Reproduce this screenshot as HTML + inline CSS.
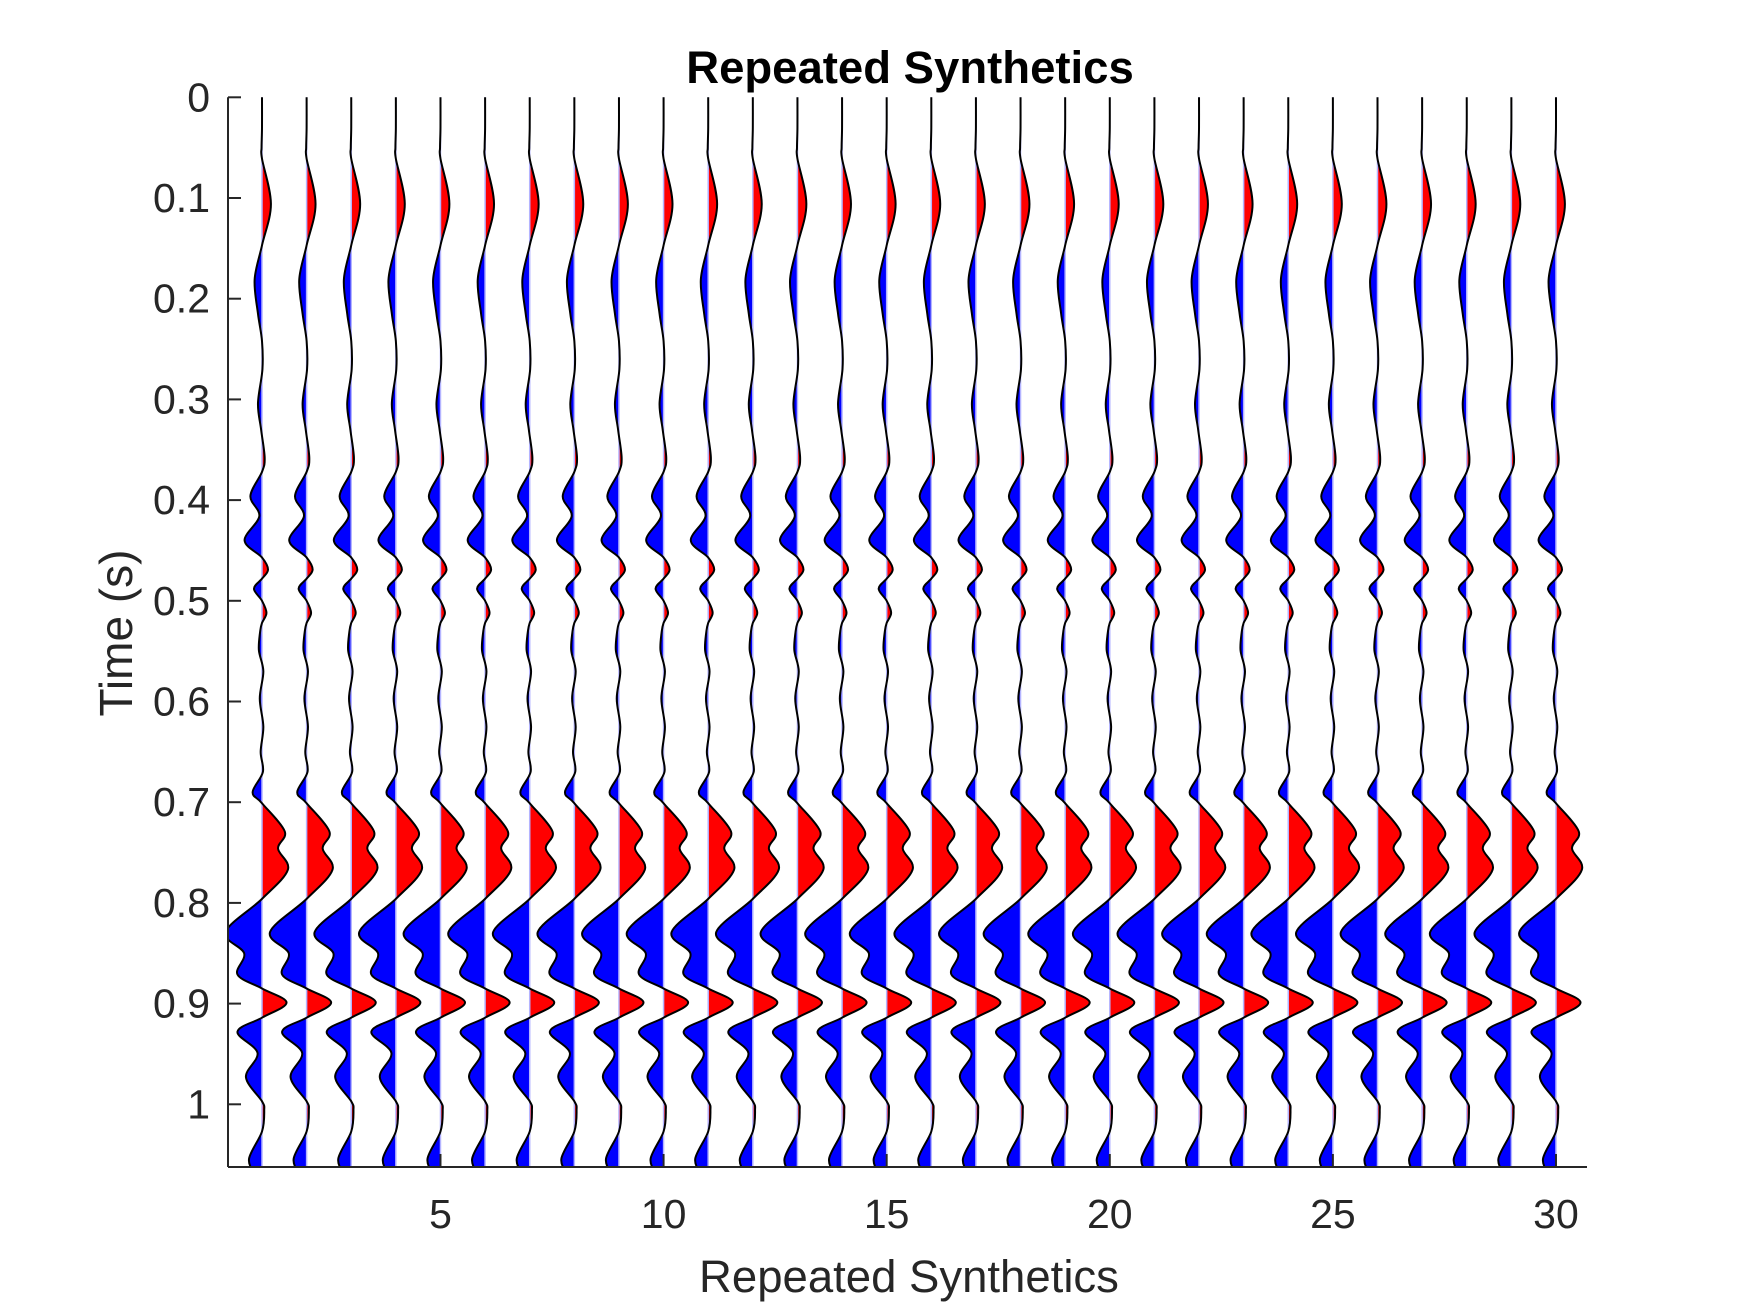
<!DOCTYPE html>
<html><head><meta charset="utf-8"><style>
html,body{margin:0;padding:0;background:#fff;}
svg{display:block;}
text{font-family:"Liberation Sans",Arial,sans-serif;fill:#262626;}
</style></head><body>
<svg id="chart" width="1750" height="1313" viewBox="0 0 1750 1313" xmlns="http://www.w3.org/2000/svg">
<defs>
<clipPath id="axclip"><rect x="228" y="97" width="1359" height="1071"/></clipPath>
<clipPath id="posclip"><rect x="0" y="0" width="200" height="1400"/></clipPath>
<clipPath id="negclip"><rect x="-200" y="0" width="200" height="1400"/></clipPath>
</defs>
<g id="plot" clip-path="url(#axclip)"></g>
<g id="axes"></g>
<text x="910" y="83" text-anchor="middle" font-size="45.5" font-weight="bold" style="fill:#000">Repeated Synthetics</text>
<text x="909" y="1292" text-anchor="middle" font-size="45.5">Repeated Synthetics</text>
<text x="0" y="0" transform="translate(132,633) rotate(-90)" text-anchor="middle" font-size="46">Time (s)</text>
</svg>
<script>
const traces = [1,2,3,4,5,6,7,8,9,10,11,12,13,14,15,16,17,18,19,20,21,22,23,24,25,26,27,28,29,30];
const times = [0,0.03,0.05,0.061,0.106,0.147,0.181,0.215,0.242,0.27,0.304,0.33,0.358,0.372,0.396,0.416,0.44,0.457,0.469,0.478,0.488,0.5,0.512,0.522,0.53,0.549,0.57,0.597,0.625,0.65,0.67,0.69,0.701,0.729,0.746,0.767,0.796,0.829,0.85,0.871,0.885,0.899,0.914,0.928,0.949,0.973,0.997,1.006,1.027,1.054,1.07];
const amps = [0,0,-0.01,0,0.2,0,-0.165,-0.09,0,0.01,-0.09,-0.02,0.06,0,-0.26,-0.06,-0.39,0,0.135,0,-0.18,0,0.1,0,-0.04,-0.07,0.03,-0.05,0.03,-0.03,0.02,-0.21,0,0.51,0.36,0.58,0,-0.82,-0.40,-0.55,0,0.55,0,-0.55,-0.1,-0.36,0,0.05,0,-0.29,-0.15];
const yTicks = [0,0.1,0.2,0.3,0.4,0.5,0.6,0.7,0.8,0.9,1];
const yTickLabels = ['0','0.1','0.2','0.3','0.4','0.5','0.6','0.7','0.8','0.9','1'];
const xTicks = [5,10,15,20,25,30];
const xTickLabels = ['5','10','15','20','25','30'];

const X0=228, X1=1587, Y0=97.3, Y1=1167;
const traceSpacing = 44.62;
function xs(v){return 262 + (v-1)*traceSpacing;}
function ys(t){return 97.3 + t*1007;}
function ampPx(a){return a*traceSpacing;}

const NS='http://www.w3.org/2000/svg';
function mk(tag, attrs, parent){const e=document.createElementNS(NS,tag);for(const k in attrs)e.setAttribute(k,attrs[k]);parent.appendChild(e);return e;}

const pts = times.map((t,i)=>[ampPx(amps[i]), ys(t)]);
let d = 'M'+pts[0][0].toFixed(2)+','+pts[0][1].toFixed(2);
for(let i=0;i<pts.length-1;i++){
  const p0=pts[Math.max(0,i-1)], p1=pts[i], p2=pts[i+1], p3=pts[Math.min(pts.length-1,i+2)];
  const c1=[p1[0]+(p2[0]-p0[0])/6, p1[1]+(p2[1]-p0[1])/6];
  const c2=[p2[0]-(p3[0]-p1[0])/6, p2[1]-(p3[1]-p1[1])/6];
  d+=' C'+c1[0].toFixed(2)+','+c1[1].toFixed(2)+' '+c2[0].toFixed(2)+','+c2[1].toFixed(2)+' '+p2[0].toFixed(2)+','+p2[1].toFixed(2);
}
const last=pts[pts.length-1];
const fillD = d+' L0,'+last[1].toFixed(2)+' L0,'+pts[0][1].toFixed(2)+' Z';

const plot=document.getElementById('plot');
traces.forEach((v)=>{
  const g=mk('g',{transform:'translate('+xs(v).toFixed(2)+',0)'},plot);
  
  
  const pos=mk('path',{d:fillD,fill:'#ff0000','clip-path':'url(#posclip)'},g);
  
  
  const neg=mk('path',{d:fillD,fill:'#0000ff','clip-path':'url(#negclip)'},g);
  
  
  const bl=mk('line',{x1:0,y1:ys(0),x2:0,y2:ys(1.07),stroke:'#b4b4ff','stroke-width':1.5},g);
  
  
  const ln=mk('path',{d:d,fill:'none',stroke:'#000','stroke-width':2},g);
  
  
});

const axes=document.getElementById('axes');
const yl=mk('line',{x1:X0,y1:Y0,x2:X0,y2:Y1,stroke:'#262626','stroke-width':2},axes);


const xl=mk('line',{x1:X0,y1:Y1,x2:X1,y2:Y1,stroke:'#262626','stroke-width':2},axes);


yTicks.forEach((t,i)=>{
  const tk=mk('line',{x1:X0,y1:ys(t),x2:X0+13,y2:ys(t),stroke:'#262626','stroke-width':2},axes);
  
  
  const tx=mk('text',{x:210,y:ys(t)+14,'text-anchor':'end','font-size':41},axes);
  tx.textContent=yTickLabels[i];
  
  
});
xTicks.forEach((v,i)=>{
  const tk=mk('line',{x1:xs(v),y1:Y1,x2:xs(v),y2:Y1-13,stroke:'#262626','stroke-width':2},axes);
  
  
  const tx=mk('text',{x:xs(v),y:1228,'text-anchor':'middle','font-size':41},axes);
  tx.textContent=xTickLabels[i];
  
  
});
</script>
</body></html>
